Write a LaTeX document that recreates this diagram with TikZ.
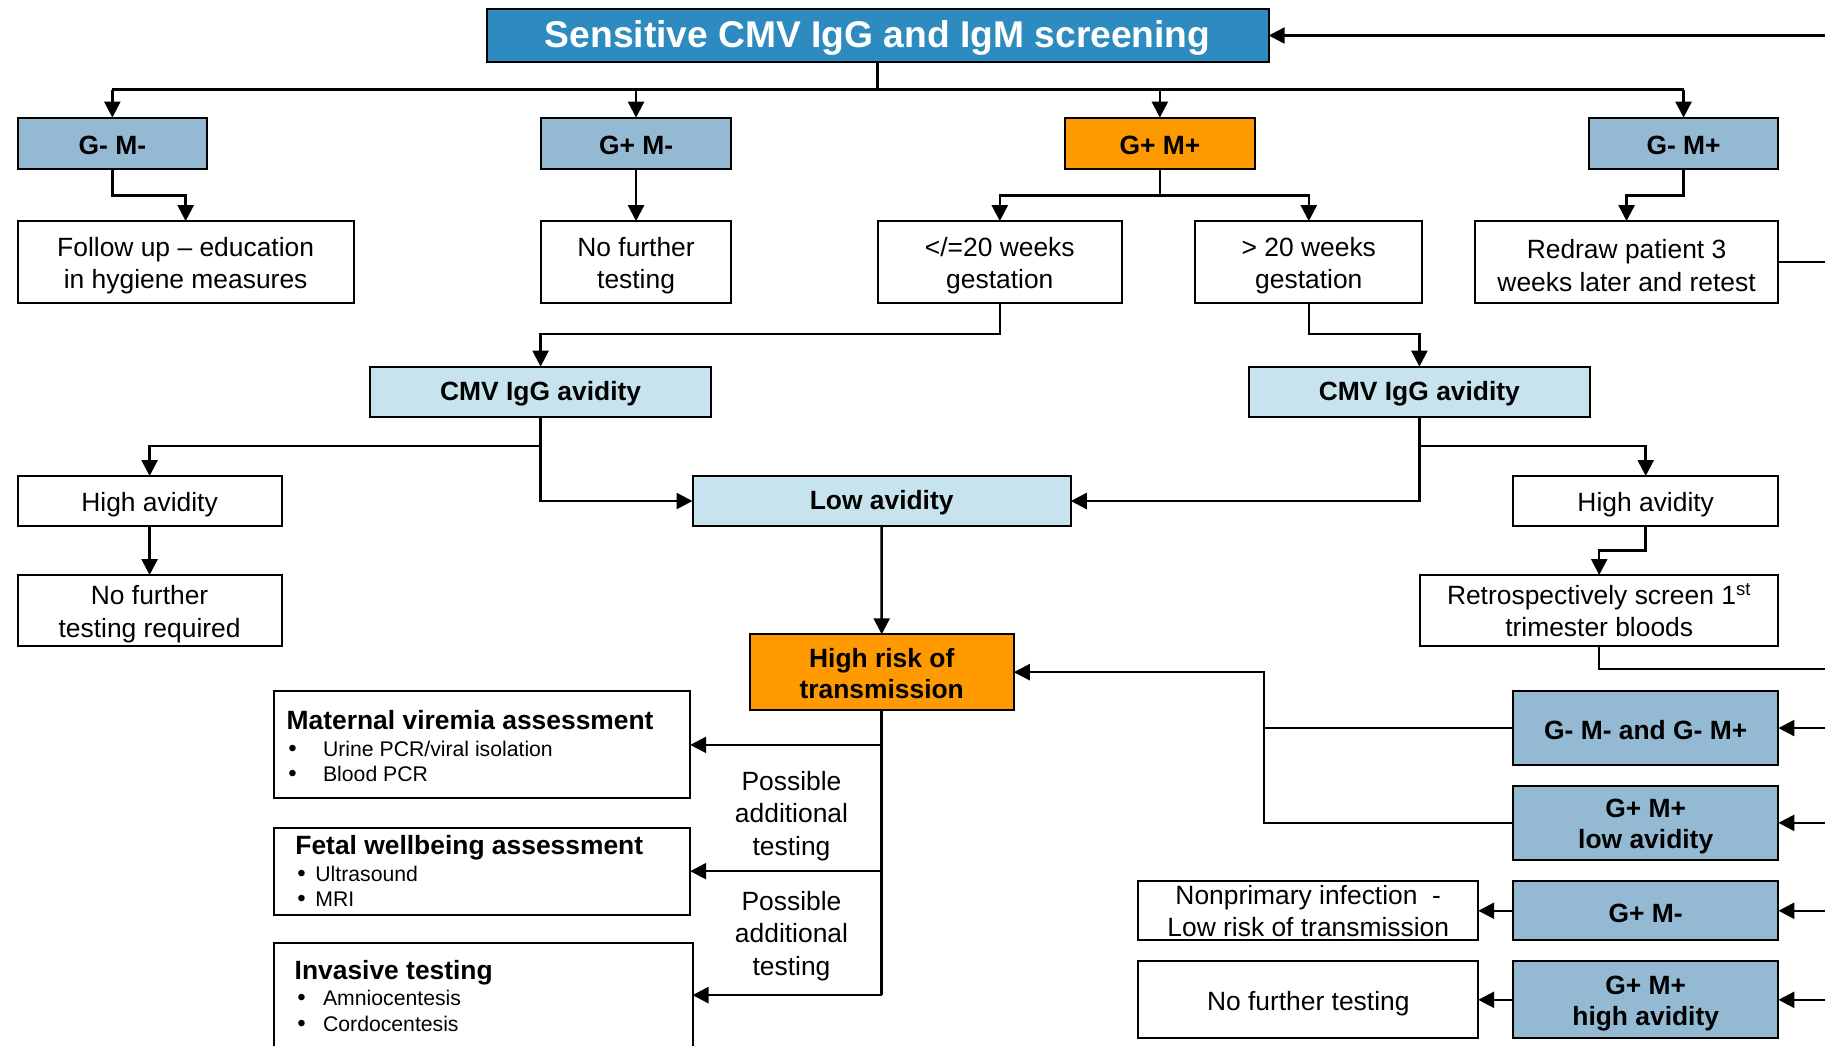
\documentclass[tikz,border=0pt]{standalone}
\usepackage{fontspec}
\setmainfont{Liberation Sans}
\usetikzlibrary{arrows.meta}
\definecolor{titleblue}{HTML}{2E8BC0}
\definecolor{gblue}{HTML}{93B9D3}
\definecolor{lblue}{HTML}{C6E3EE}
\definecolor{orng}{HTML}{FF9900}
\newcommand{\mybox}[7]{\node[#6, minimum width={(#4-#2)*0.5pt}, minimum height={(#5-#3)*0.5pt}] (#1) at ({(#2+#4)/2},{(#3+#5)/2}) {#7};}
\newcommand{\bul}[1]{\makebox[#1][l]{\fontsize{12}{12}\selectfont •}}
\begin{document}
\begin{tikzpicture}[x=0.5pt, y=-0.5pt,
  bx/.style={draw=black, line width=1pt, inner sep=0pt, outer sep=0pt, align=center, font=\fontsize{13.2}{16.2}\selectfont},
  wbox/.style={bx, fill=white, execute at begin node={\rule{0pt}{13.2pt}}},
  wboxtwo/.style={bx, fill=white, execute at begin node={\rule{0pt}{29.3pt}}},
  bbox/.style={bx, font=\fontsize{13.2}{15.8}\selectfont\bfseries, execute at begin node={\rule{0pt}{11.6pt}}},
  bboxtwo/.style={bx, font=\fontsize{13.2}{15.8}\selectfont\bfseries, execute at begin node={\rule{0pt}{28.6pt}}},
  gbox/.style={bbox, fill=gblue},
  gboxtwo/.style={bboxtwo, fill=gblue},
  lbox/.style={bbox, fill=lblue},
  obox/.style={bbox, fill=orng},
  oboxtwo/.style={bx, font=\fontsize{13.2}{15.8}\selectfont\bfseries, fill=orng, execute at begin node={\rule{0pt}{26.8pt}}},
  tbox/.style={bx, fill=titleblue, text=white, font=\fontsize{18.6}{20}\selectfont\bfseries, execute at begin node={\rule{0pt}{16.2pt}}},
  hd/.style={inner sep=0pt, anchor=base west, font=\fontsize{13.2}{15.8}\selectfont\bfseries},
  itm/.style={inner sep=0pt, anchor=base west, font=\fontsize{10.6}{12.8}\selectfont},
  lbl/.style={inner sep=0pt, align=center, font=\fontsize{13.2}{16.2}\selectfont},
  line/.style={line width=1.25pt},
  arr/.style={line, -{Triangle[length=8pt,width=8pt]}}]
\fill[white] (0,0) rectangle (1825,1045);
\useasboundingbox (0,0) rectangle (1825,1045);
\coordinate (bus) at (0,89.6);
\coordinate (redge) at (1825,0);
\coordinate (jx) at (1264,0);
\coordinate (retroOut) at (1825,669.2);
% nodes
\mybox{title}{486.5}{9.3}{1268.7}{61.7}{tbox}{Sensitive CMV IgG and IgM screening}
\mybox{GmMm}{17.5}{117.6}{207.2}{168.8}{gbox}{G- M-}
\mybox{GpMm}{541.2}{117.6}{730.9}{168.8}{gbox}{G+ M-}
\mybox{GpMp}{1065}{117.6}{1254.7}{168.8}{obox}{G+ M+}
\mybox{GmMp}{1588.7}{117.6}{1778.4}{168.8}{gbox}{G- M+}
\mybox{follow}{17.5}{221.1}{353.8}{302.6}{wboxtwo}{Follow up – education\\in hygiene measures}
\mybox{nfa}{541.2}{221.1}{730.9}{302.6}{wboxtwo}{No further\\testing}
\mybox{le}{877.6}{221.1}{1122}{302.6}{wboxtwo}{</=20 weeks\\gestation}
\mybox{gt}{1195.3}{221.1}{1422.3}{302.6}{wboxtwo}{> 20 weeks\\gestation}
\mybox{redraw}{1474.7}{221.1}{1778.4}{302.6}{wboxtwo}{Redraw patient 3\\weeks later and retest}
\mybox{cmvL}{370.1}{366.6}{711.1}{416.7}{lbox}{CMV IgG avidity}
\mybox{cmvR}{1248.9}{366.6}{1589.9}{416.7}{lbox}{CMV IgG avidity}
\mybox{hiL}{17.5}{476}{281.7}{526}{wbox}{High avidity}
\mybox{low}{692.5}{476}{1070.8}{526}{lbox}{Low avidity}
\mybox{hiR}{1513}{476}{1778.4}{526}{wbox}{High avidity}
\mybox{nfr}{17.5}{575}{281.7}{646}{wboxtwo}{No further\\testing required}
\mybox{retro}{1420}{575}{1778.4}{646}{wbox}{Retrospectively screen 1\textsuperscript{st}\\trimester bloods}
\mybox{hr}{749.6}{634.3}{1013.8}{710}{oboxtwo}{High risk of\\transmission}
\mybox{ga}{1513}{691.4}{1778.4}{764.7}{gbox}{G- M- and G- M+}
\mybox{gb}{1513}{785.6}{1778.4}{860.1}{gboxtwo}{G+ M+\\low avidity}
\mybox{gc}{1513}{881.1}{1778.4}{940.4}{gbox}{G+ M-}
\mybox{gd}{1513}{961.4}{1778.4}{1038.2}{gboxtwo}{G+ M+\\high avidity}
\mybox{np}{1138.3}{881.1}{1478.2}{940.4}{wbox}{Nonprimary infection\ \ -\\Low risk of transmission}
\mybox{nft}{1138.3}{961.4}{1478.2}{1038.2}{wbox}{No further testing}
\mybox{mat}{273.5}{691.4}{690.2}{798.4}{bx, fill=white}{}
\mybox{fet}{273.5}{827.5}{690.2}{914.8}{bx, fill=white}{}
\mybox{inv}{273.5}{942.8}{692.5}{1047.4}{bx, fill=white}{}
% box contents
\node[hd] (matT) at (286.3,729) {Maternal viremia assessment};
\node[itm] (matA) at (288,756) {\bul{17.35pt}Urine PCR/viral isolation};
\node[itm] (matB) at (288,781.7) {\bul{17.35pt}Blood PCR};
\node[hd] (fetT) at (295,854) {Fetal wellbeing assessment};
\node[itm] (fetA) at (297,881.7) {\bul{9pt}Ultrasound};
\node[itm] (fetB) at (297,906.7) {\bul{9pt}MRI};
\node[hd] (invT) at (294.3,979) {Invasive testing};
\node[itm] (invA) at (297,1005.7) {\bul{12.85pt}Amniocentesis};
\node[itm] (invB) at (297,1031) {\bul{12.85pt}Cordocentesis};
\node[lbl] (pa1) at (791.5,816) {Possible\\additional\\testing};
\node[lbl] (pa2) at (791.5,936) {Possible\\additional\\testing};
% connectors
\draw[arr] (title.east -| redge) -- (title.east);
\draw[line] (title.south) -- (title.south |- bus);
\draw[line] (GmMm.north |- bus) -- (GmMp.north |- bus);
\foreach \n in {GmMm,GpMm,GpMp,GmMp} \draw[arr] (\n.north |- bus) -- (\n.north);
\draw[arr] (GmMm.south) -- ++(0,26.7) -| (follow.north);
\draw[arr] (GpMm.south) -- (nfa.north);
\draw[arr] (GpMp.south) -- ++(0,26.7) -| (le.north);
\draw[arr] (GpMp.south) -- ++(0,26.7) -| (gt.north);
\draw[arr] (GmMp.south) -- ++(0,26.7) -| (redraw.north);
\draw[line] (redraw.east) -- (redraw.east -| redge);
\draw[arr] (le.south) -- ++(0,31.4) -| (cmvL.north);
\draw[arr] (gt.south) -- ++(0,31.4) -| (cmvR.north);
\draw[arr] (cmvL.south) -- ++(0,29.1) -| (hiL.north);
\draw[arr] (cmvL.south) |- (low.west);
\draw[arr] (cmvR.south) -- ++(0,29.1) -| (hiR.north);
\draw[arr] (cmvR.south) |- (low.east);
\draw[arr] (hiL.south) -- (nfr.north);
\draw[arr] (hiR.south) -- ++(0,24.5) -| (retro.north);
\draw[line] (retro.south) |- (retroOut);
\draw[arr] (low.south) -- (hr.north);
\draw[arr] (ga.west) -| (jx |- hr.east) -- (hr.east);
\draw[line] (gb.west) -| (jx |- ga.west);
\foreach \n in {ga,gb,gc,gd} \draw[arr] (\n.east -| redge) -- (\n.east);
\draw[arr] (gc.west) -- (np.east);
\draw[arr] (gd.west) -- (nft.east);
\draw[line] (hr.south) -- (hr.south |- inv.east);
\draw[arr] (hr.south |- mat.east) -- (mat.east);
\draw[arr] (hr.south |- fet.east) -- (fet.east);
\draw[arr] (hr.south |- inv.east) -- (inv.east);
\end{tikzpicture}
\end{document}
